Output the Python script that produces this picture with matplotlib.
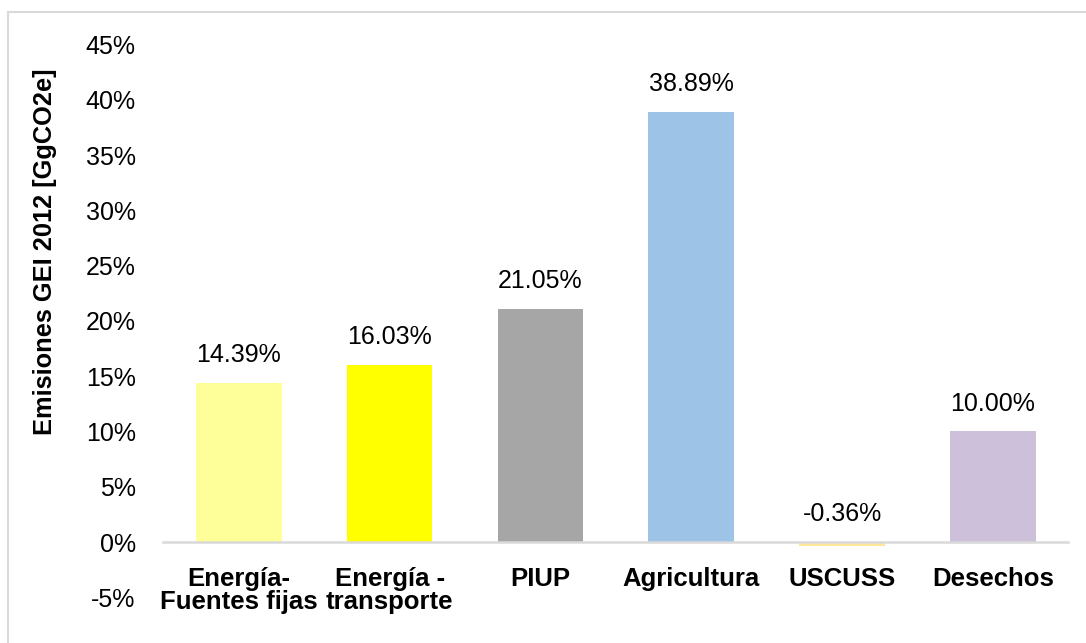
import matplotlib
matplotlib.use("Agg")
import matplotlib.pyplot as plt
from matplotlib.patches import Rectangle
from matplotlib.ticker import FuncFormatter

# datos (porcentaje de emisiones GEI 2012)
categorias = ["Energía-\nFuentes fijas", "Energía -\ntransporte", "PIUP",
              "Agricultura", "USCUSS", "Desechos"]
valores = [14.39, 16.03, 21.05, 38.89, -0.36, 10.00]
colores = ["#FFFF99", "#FFFF00", "#A6A6A6", "#9DC3E6", "#FFE699", "#CCC0DA"]
yticks = [-5, 0, 5, 10, 15, 20, 25, 30, 35, 40, 45]

plt.rcParams["font.family"] = ["Liberation Sans", "DejaVu Sans"]

fig = plt.figure(figsize=(10.86, 6.43), dpi=100)
ax = fig.add_axes([0.1505, 0.0711, 0.8331, 0.8597])

x = range(len(categorias))
ax.bar(x, valores, width=0.568, color=colores, zorder=2)
for xi, v in zip(x, valores):
    ax.annotate(f"{v:.2f}%", (xi, max(v, 0)), xytext=(0, 15), textcoords="offset points",
                ha="center", va="baseline", fontsize=18)

# linea del cero (el eje x va en y=0)
ax.spines["bottom"].set_position(("data", 0))
ax.spines["bottom"].set_color("#D9D9D9")
ax.spines["bottom"].set_linewidth(1.8)
for s in ["top", "right", "left"]:
    ax.spines[s].set_visible(False)

ax.set_xlim(-0.5, len(categorias) - 0.5)
ax.set_ylim(-5, 45)
ax.set_yticks(yticks)
ax.yaxis.set_major_formatter(FuncFormatter(lambda v, p: f"{v:.0f}%"))
ax.tick_params(axis="y", length=0, pad=20, labelsize=18)

ax.tick_params(axis="x", length=0, pad=18, labelsize=18.5)
ax.set_xticks(list(x))
ax.set_xticklabels(categorias, fontweight="bold", linespacing=0.95)

fig.text(45 / 1086, 0.609, "Emisiones GEI 2012 [GgCO2e]", rotation=90,
         ha="center", va="center", fontsize=18.3, fontweight="bold")

# marco gris del area del grafico
fig.add_artist(Rectangle((8 / 1086, -1), 2, 1 - 12 / 643 + 1, transform=fig.transFigure,
                         fill=False, edgecolor="#D9D9D9", linewidth=1.5, clip_on=False))

fig.savefig("out.png", dpi=100)
